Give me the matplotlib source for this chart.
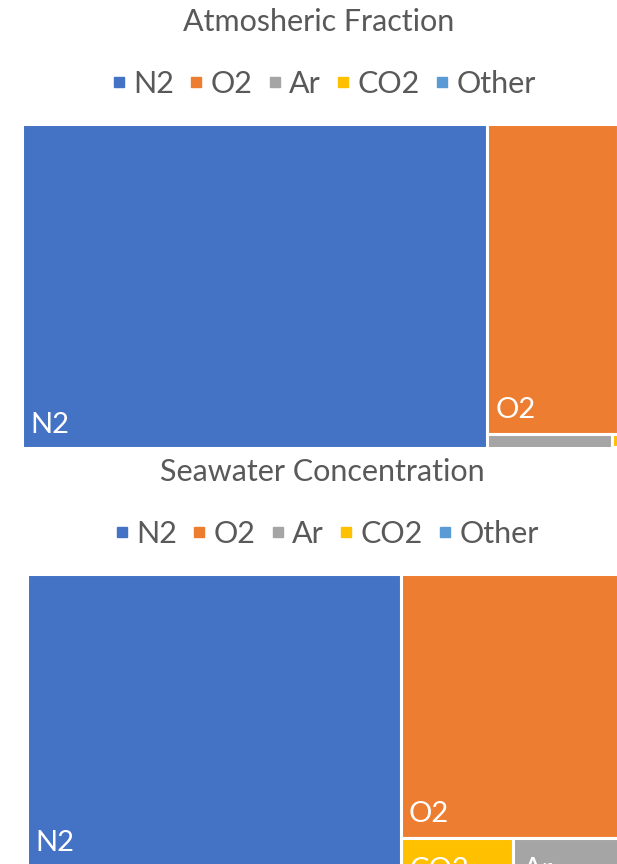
import matplotlib.pyplot as plt
from matplotlib.patches import Rectangle
from matplotlib.lines import Line2D

gases = ['N2', 'O2', 'Ar', 'CO2', 'Other']
colores = ['#4472C4', '#ED7D31', '#A5A5A5', '#FFC000', '#5B9BD5']

# porcentajes (%)
atmosfera = [78.08, 20.95, 0.93, 0.04, 0.003]
agua_mar = [63.1, 33.3, 1.72, 1.86, 0.02]

gris = '#595959'
plt.rcParams['font.family'] = ['Lato', 'DejaVu Sans']

W, H = 617, 864


def slice_dice(valores, x=0.0, y=0.0, w=1.0, h=1.0):
    # alterna cortes verticales y horizontales, de mayor a menor
    rects = []
    total = sum(valores)
    vertical = True
    for v in valores:
        f = v / total
        if vertical:
            rects.append((x, y, w * f, h))
            x += w * f
            w -= w * f
        else:
            rects.append((x, y, w, h * f))
            y += h * f
            h -= h * f
        total -= v
        vertical = not vertical
    return rects


def treemap(fig, caja, titulo, valores):
    izq, arriba, der, abajo = caja  # en pixeles
    ax = fig.add_axes([izq / W, (H - abajo) / H, (der - izq) / W, (abajo - arriba) / H])
    ax.set_xlim(0, 1)
    ax.set_ylim(1, 0)
    ax.axis('off')
    alto_px = abajo - arriba

    orden = sorted(range(len(valores)), key=lambda i: -valores[i])
    rects = slice_dice([valores[i] for i in orden])
    for i, (x, y, w, h) in zip(orden, rects):
        ax.add_patch(Rectangle((x, y), w, h, facecolor=colores[i],
                               edgecolor='white', linewidth=2.2))
        h_px = h * alto_px
        if h_px < 20:
            continue
        if h_px > 60:
            t = ax.annotate(gases[i], (x, y + h), xytext=(5.8, 11),
                            textcoords='offset points', va='baseline')
        else:
            t = ax.annotate(gases[i], (x, y), xytext=(6.5, -29),
                            textcoords='offset points', va='baseline')
        t.set_color('white')
        t.set_fontsize(21)
        t.set_clip_on(True)

    centro = (izq + der) / 2 / W
    fig.text(centro - 1 / W, 1 - (arriba - 102) / H, titulo, ha='center', va='center',
             fontsize=22, color=gris)
    handles = [Line2D([], [], marker='s', linestyle='none', markersize=7.5,
                      markerfacecolor=c, markeredgecolor=c) for c in colores]
    fig.legend(handles, gases, loc='center', ncol=5, frameon=False,
               bbox_to_anchor=(centro + 4 / W, 1 - (arriba - 40) / H),
               fontsize=22, labelcolor=gris, handlelength=0.45,
               handletextpad=0.25, columnspacing=0.5, borderpad=0)


fig = plt.figure(figsize=(W / 100, H / 100), dpi=100)
treemap(fig, (22, 124, 618, 448), 'Atmosheric Fraction', atmosfera)
treemap(fig, (27, 574, 619, 866), 'Seawater Concentration', agua_mar)
fig.savefig('out.png', dpi=100)
